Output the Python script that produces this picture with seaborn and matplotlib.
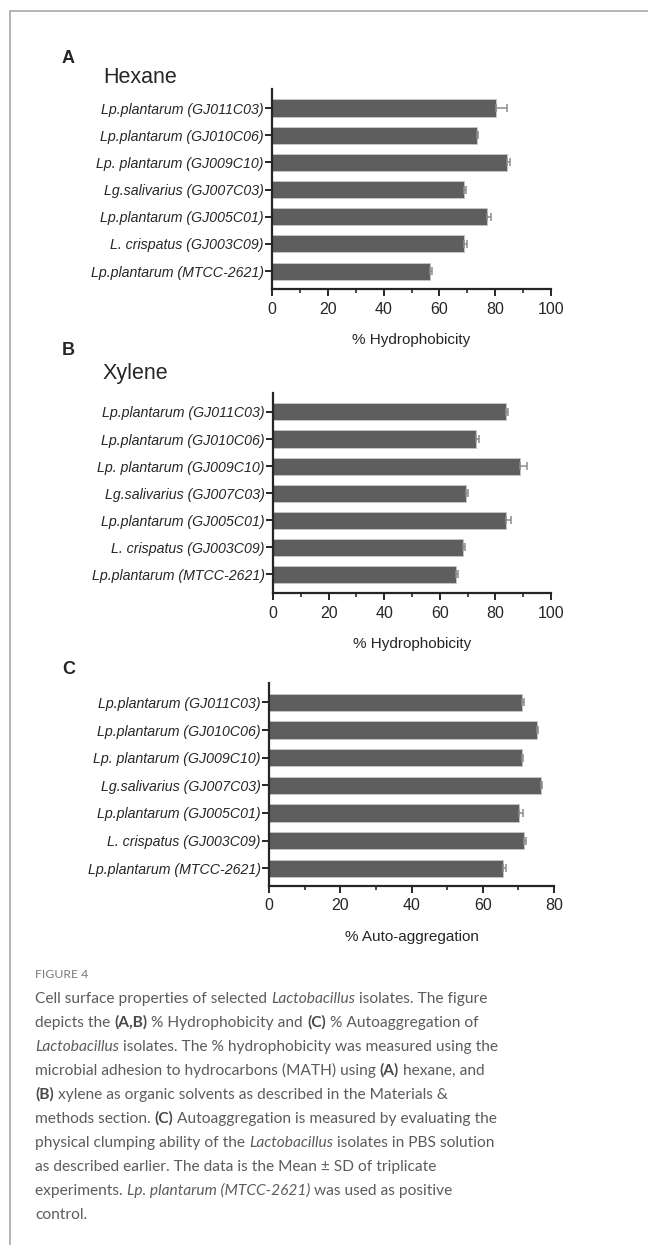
import numpy as np
import pandas as pd
import matplotlib.pyplot as plt
import seaborn as sns
from matplotlib.lines import Line2D
from matplotlib.ticker import MultipleLocator

strains = [
    "Lp.plantarum (GJ011C03)",
    "Lp.plantarum (GJ010C06)",
    "Lp. plantarum (GJ009C10)",
    "Lg.salivarius (GJ007C03)",
    "Lp.plantarum (GJ005C01)",
    "L. crispatus (GJ003C09)",
    "Lp.plantarum (MTCC-2621)",
]
hexane_mean = [80.3, 73.5, 84.1, 68.9, 77.0, 68.9, 56.7]
hexane_sd = [3.8, 0.3, 1.2, 0.5, 1.5, 1.1, 0.6]
xylene_mean = [83.7, 72.9, 88.8, 69.4, 83.7, 68.3, 65.9]
xylene_sd = [0.8, 1.1, 2.4, 0.8, 1.9, 0.6, 0.5]
autoagg_mean = [70.9, 75.3, 71.0, 76.4, 70.1, 71.6, 65.8]
autoagg_sd = [0.6, 0.2, 0.2, 0.2, 1.2, 0.5, 0.6]

W, H = 648, 1245
sns.set_style("ticks")
plt.rcParams["font.family"] = ["Liberation Sans", "DejaVu Sans"]

fig = plt.figure(figsize=(W / 100, H / 100), dpi=100)


def px_axes(left, top, right, bottom):
    return fig.add_axes([left / W, 1 - bottom / H, (right - left) / W, (bottom - top) / H])


def panel(box, mean, sd, xmax, ylim, xlabel):
    ax = px_axes(*box)
    df = pd.DataFrame({"strain": strains, "value": mean})
    sns.barplot(data=df, y="strain", x="value", orient="h", color="#5e5e5e",
                saturation=1, width=0.63, edgecolor="#c8c8c8", linewidth=0.6,
                errorbar=None, ax=ax)
    ax.errorbar(mean, np.arange(len(strains)), xerr=[np.zeros(len(sd)), sd],
                fmt="none", ecolor="#8c8c8c", elinewidth=1.1, capsize=3, capthick=1.1)
    ax.set_xlim(0, xmax)
    ax.set_ylim(*ylim)
    ax.xaxis.set_major_locator(MultipleLocator(20))
    ax.xaxis.set_minor_locator(MultipleLocator(10))
    for s in ["top", "right"]:
        ax.spines[s].set_visible(False)
    for s in ["left", "bottom"]:
        ax.spines[s].set_linewidth(1.6)
    ax.tick_params(axis="x", which="major", length=5, width=1.4, labelsize=11.5, pad=4)
    ax.tick_params(axis="x", which="minor", length=3, width=1.2)
    ax.tick_params(axis="y", length=5, width=1.4, labelsize=10.2, pad=1)
    for lab in ax.get_yticklabels():
        lab.set_fontstyle("italic")
    ax.set_ylabel("")
    ax.set_xlabel(xlabel, fontsize=11, labelpad=12)
    return ax


panel((272, 89, 551, 289), hexane_mean, hexane_sd, 100, (6.66, -0.7), "% Hydrophobicity")
panel((273, 393, 551, 593), xylene_mean, xylene_sd, 100, (6.69, -0.7), "% Hydrophobicity")
panel((269, 683, 554, 886), autoagg_mean, autoagg_sd, 80, (6.64, -0.7), "% Auto-aggregation")


def ptext(x, y, s, **kw):
    return fig.text(x / W, 1 - y / H, s, va="baseline", ha="left", **kw)


ptext(62, 63, "A", fontsize=13, fontweight="bold")
ptext(103, 83, "Hexane", fontsize=15.5)
ptext(62, 355, "B", fontsize=13, fontweight="bold")
ptext(103, 379, "Xylene", fontsize=15.5)
ptext(62, 674, "C", fontsize=13, fontweight="bold")

# frame
fig.add_artist(Line2D([9.5 / W, 1], [1 - 11 / H, 1 - 11 / H], color="#a8a8a8", lw=1.2))
fig.add_artist(Line2D([9.5 / W, 9.5 / W], [1 - 11 / H, 0], color="#a8a8a8", lw=1.2))

# caption
cap_font = ["Lato", "DejaVu Sans"]
ptext(35, 978, "FIGURE 4", fontsize=8.8, color="#7a7a7a", family=cap_font)

N, I, B = "n", "i", "b"
caption = [
    [("Cell surface properties of selected ", N), ("Lactobacillus", I), (" isolates. The figure", N)],
    [("depicts the ", N), ("(A,B)", B), (" % Hydrophobicity and ", N), ("(C)", B), (" % Autoaggregation of", N)],
    [("Lactobacillus", I), (" isolates. The % hydrophobicity was measured using the", N)],
    [("microbial adhesion to hydrocarbons (MATH) using ", N), ("(A)", B), (" hexane, and", N)],
    [("(B)", B), (" xylene as organic solvents as described in the Materials &", N)],
    [("methods section. ", N), ("(C)", B), (" Autoaggregation is measured by evaluating the", N)],
    [("physical clumping ability of the ", N), ("Lactobacillus", I), (" isolates in PBS solution", N)],
    [("as described earlier. The data is the Mean \u00b1 SD of triplicate", N)],
    [("experiments. ", N), ("Lp. plantarum (MTCC-2621)", I), (" was used as positive", N)],
    [("control.", N)],
]

fig.canvas.draw()
renderer = fig.canvas.get_renderer()


def props(style):
    p = dict(fontsize=11.2, family=cap_font, color="#5c5c5c")
    if style == I:
        p["fontstyle"] = "italic"
    if style == B:
        p["fontweight"] = "bold"
        p["color"] = "#4a4a4a"
    return p


def measure(s, p):
    t1 = fig.text(0, 0, "x" + s + "x", **p)
    t2 = fig.text(0, 0, "xx", **p)
    w = t1.get_window_extent(renderer).width - t2.get_window_extent(renderer).width
    t1.remove()
    t2.remove()
    return w


y = 1003
for line in caption:
    x = 35
    for s, style in line:
        p = props(style)
        ptext(x, y, s, **p)
        x += measure(s, p)
    y += 24

fig.savefig("out.png", dpi=100)
